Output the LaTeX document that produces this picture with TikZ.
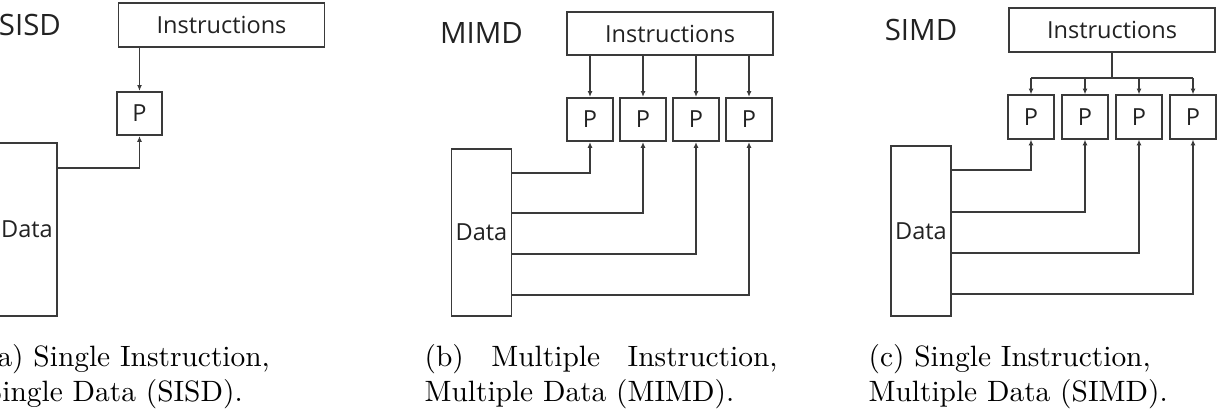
\documentclass[tikz,border=0pt]{standalone}
\usepackage{fontspec}
\newfontfamily\labelfont{Open Sans}
\usepackage{xcolor}
\usetikzlibrary{arrows.meta,positioning,calc}
\definecolor{ink}{HTML}{3A3A3A}
\definecolor{lbl}{HTML}{222222}

\begin{document}
\begin{tikzpicture}[x=0.34pt,y=-0.34pt,>={Latex[length=2pt,width=1.7pt]},
   box/.style={draw=ink,line width=0.55pt,inner sep=0pt,text=lbl,font=\labelfont\fontsize{8}{9.6}\selectfont},
   instr/.style={box,minimum width=70pt,minimum height=14.8pt},
   proc/.style={box,minimum width=15.5pt,minimum height=14.8pt},
   data/.style={box,minimum width=20.4pt},
   title/.style={inner sep=0pt,text=lbl,font=\labelfont\fontsize{10}{12}\selectfont},
   wire/.style={draw=ink,line width=0.5pt},
   capt/.style={inner sep=0pt,anchor=north west,align=left,font=\fontsize{10}{12}\selectfont}]
  \useasboundingbox (0,0) rectangle (1218,420);
  \clip (0,0) rectangle (1218,420);
  % SISD
  \node[instr] (instrA) at (221.5,25) {Instructions};
  \node[proc] (pA) at (139.5,113.5) {P};
  \node[data,minimum height=58.8pt] (dataA) at (27,229.5) {Data};
  \node[title] at ([xshift=1pt]dataA.center |- instrA) {SISD};
  \draw[wire,->] (pA |- instrA.south) -- (pA.north);
  \draw[wire,->] (dataA.east |- 0,168) -| (pA.south);
  \node[capt] (captA) at (-14.5,344) {(a) Single Instruction,\\Single Data (SISD).};
  % MIMD
  \node[instr] (instrB) at (670,33.5) {Instructions};
  \foreach \i/\x in {1/590,2/643,3/696,4/749}{\node[proc] (pB\i) at (\x,119.5) {P};}
  \node[data,minimum height=56.8pt] (dataB) at (481.5,232.5) {Data};
  \node[title] at (dataB.center |- instrB) {MIMD};
  \foreach \i/\y in {1/173,2/213,3/254,4/295}{
    \draw[wire,->] (pB\i |- instrB.south) -- (pB\i.north);
    \draw[wire,->] (dataB.east |- 0,\y) -| (pB\i.south);}
  \node[capt] (captB) at (424,344) {\makebox[120pt][s]{(b) Multiple Instruction,}\\Multiple Data (MIMD).};
  % SIMD
  \node[instr] (instrC) at (1112,30) {Instructions};
  \foreach \i/\x in {1/1031,2/1085,3/1139,4/1193}{\node[proc] (pC\i) at (\x,117) {P};}
  \node[data,minimum height=57.8pt] (dataC) at (921,231) {Data};
  \node[title] at (dataC.center |- instrC) {SIMD};
  \coordinate (busC) at (1112,78);
  \draw[wire] (instrC.south) -- (busC);
  \draw[wire] (pC1 |- busC) -- (pC4 |- busC);
  \foreach \i/\y in {1/170,2/212,3/253,4/294}{
    \draw[wire,->] (pC\i |- busC) -- (pC\i.north);
    \draw[wire,->] (dataC.east |- 0,\y) -| (pC\i.south);}
  \node[capt] (captC) at (868,344) {(c) Single Instruction,\\Multiple Data (SIMD).};
\end{tikzpicture}
\end{document}
